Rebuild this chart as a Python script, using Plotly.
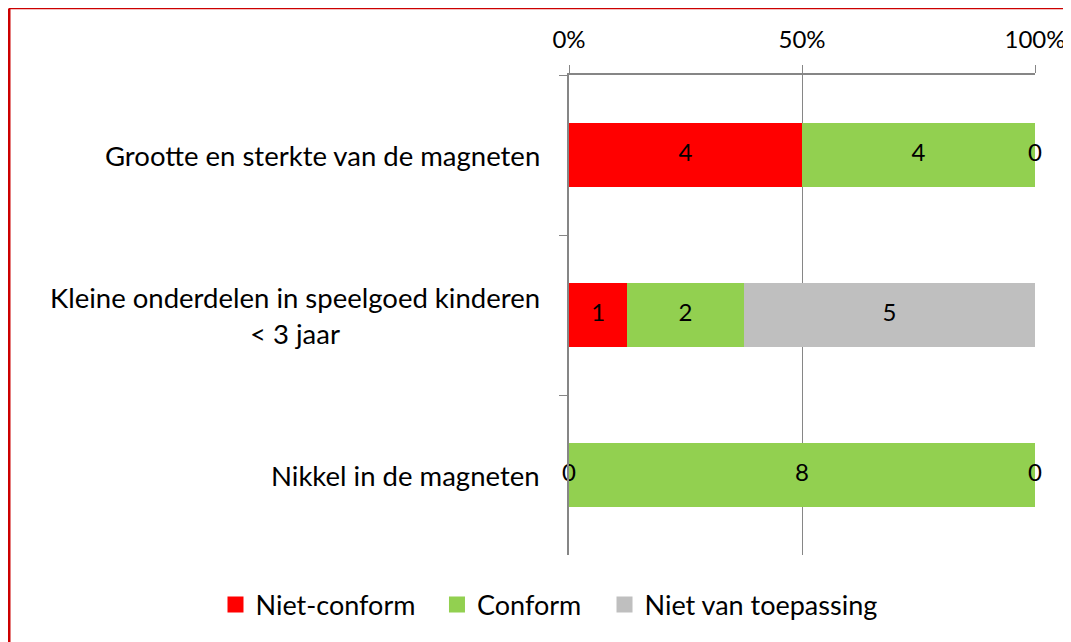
import plotly.graph_objects as go

categories = [
    "Grootte en sterkte van de magneten",
    "Kleine onderdelen in speelgoed kinderen<br>< 3 jaar",
    "Nikkel in de magneten",
]
series_names = ["Niet-conform", "Conform", "Niet van toepassing"]
niet_conform = [4, 1, 0]
conform = [4, 2, 8]
niet_van_toepassing = [0, 5, 0]
tick_vals = [0, 50, 100]
tick_text = ["0%", "50%", "100%"]
colors = ["#FF0000", "#92D050", "#BFBFBF"]

FONT = "Lato"
GRID = "#868686"
W, H = 1071, 642
L, R, T, B = 561, 44, 67, 95

series = [niet_conform, conform, niet_van_toepassing]
totals = [sum(vals) for vals in zip(*series)]

fig = go.Figure()

# stacked bars as percent of the row total
starts = [0.0] * len(categories)
label_x, label_y, label_t = [], [], []
for name, vals, color in zip(series_names, series, colors):
    pct = [v / t * 100 for v, t in zip(vals, totals)]
    fig.add_trace(
        go.Bar(
            x=pct,
            y=categories,
            orientation="h",
            name=name,
            marker=dict(color=color, line=dict(width=0)),
            width=0.4,
            showlegend=False,
        )
    )
    for i, (p, v) in enumerate(zip(pct, vals)):
        label_x.append(starts[i] + p / 2)
        label_y.append(categories[i])
        label_t.append(str(v))
        starts[i] += p

# value labels (including the zero-width segments)
fig.add_trace(
    go.Scatter(
        x=label_x,
        y=label_y,
        text=label_t,
        mode="text",
        textposition="middle center",
        textfont=dict(family=FONT, size=24, color="black"),
        showlegend=False,
        hoverinfo="skip",
        cliponaxis=False,
    )
)

# legend entries: one small legend per series so the spacing matches
legend_ids = ["legend", "legend2", "legend3"]
for name, color, lid in zip(series_names, colors, legend_ids):
    fig.add_trace(
        go.Scatter(
            x=[None],
            y=[None],
            mode="markers",
            name=name,
            marker=dict(symbol="square", size=16, color=color),
            legend=lid,
            showlegend=True,
        )
    )

# category labels, centred multi-line like the original
for cat in categories:
    fig.add_annotation(
        x=0,
        xref="paper",
        y=cat,
        yref="y",
        text=cat,
        showarrow=False,
        xanchor="right",
        align="center",
        xshift=-27,
        font=dict(family=FONT, size=27.5, color="black"),
    )

# red frame on top and left (page edge of the original)
pw, ph = W - L - R, H - T - B
x_left = (1 - L) / pw
y_top = 1 + (T - 0.5) / ph
fig.add_shape(type="line", xref="paper", yref="paper", x0=x_left, x1=(W - L) / pw + 0.1,
              y0=y_top, y1=y_top, line=dict(color="#CC0000", width=1.5))
fig.add_shape(type="line", xref="paper", yref="paper", x0=x_left, x1=x_left,
              y0=y_top, y1=-B / ph - 0.1, line=dict(color="#CC0000", width=3))


def legend_box(x):
    return dict(
        orientation="h",
        x=x,
        xanchor="left",
        y=-0.104,
        yanchor="middle",
        font=dict(family=FONT, size=27),
        itemwidth=30,
        bgcolor="rgba(0,0,0,0)",
    )


fig.update_layout(
    barmode="stack",
    width=W,
    height=H,
    margin=dict(l=L, r=R, t=T, b=B, autoexpand=False),
    paper_bgcolor="white",
    plot_bgcolor="white",
    font=dict(family=FONT, size=27, color="black"),
    showlegend=True,
    legend=legend_box(-0.7586),
    legend2=legend_box(-0.2833),
    legend3=legend_box(0.0762),
    xaxis=dict(
        side="top",
        range=[0, 100],
        tickmode="array",
        tickvals=tick_vals,
        ticktext=tick_text,
        showgrid=True,
        gridcolor=GRID,
        gridwidth=1,
        showline=True,
        linecolor=GRID,
        linewidth=1.5,
        ticks="outside",
        ticklen=8,
        tickcolor=GRID,
        ticklabelstandoff=8,
        zeroline=False,
        tickfont=dict(family=FONT, size=24),
        fixedrange=True,
    ),
    yaxis=dict(
        type="category",
        categoryorder="array",
        categoryarray=categories,
        autorange="reversed",
        showticklabels=False,
        ticks="outside",
        tickson="boundaries",
        ticklen=8,
        tickcolor=GRID,
        showline=True,
        linecolor=GRID,
        linewidth=1.5,
        showgrid=False,
        fixedrange=True,
    ),
)

fig.write_html("out.html")
